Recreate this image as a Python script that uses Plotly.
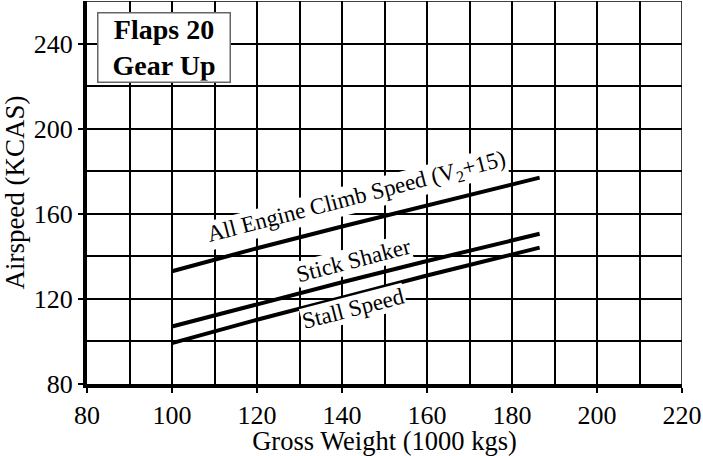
import plotly.graph_objects as go

# gross weight (1000 kgs)
weight = [100, 120, 140, 160, 186.5]

# airspeeds (KCAS)
climb_speed = [133, 143.8, 154, 164, 177]
stick_shaker = [107, 117.6, 127.8, 137.8, 150.6]
stall_speed = [99.2, 110.2, 120.6, 131, 144.1]

curve_labels = ["All Engine Climb Speed (V<sub>2</sub>+15)", "Stick Shaker", "Stall Speed"]
label_x = [143.3, 142.7, 142.8]
label_y = [167.5, 137.9, 115.3]

FONT = "Liberation Serif, Times New Roman, serif"

fig = go.Figure()
for ys in [climb_speed, stick_shaker, stall_speed]:
    fig.add_trace(go.Scatter(x=weight, y=ys, mode="lines",
                             line=dict(color="black", width=4),
                             showlegend=False, hoverinfo="skip"))

for txt, lx, ly in zip(curve_labels, label_x, label_y):
    fig.add_annotation(x=lx, y=ly, text=txt, showarrow=False, textangle=-14.5,
                       font=dict(family=FONT, size=23, color="black"),
                       bgcolor="white", borderpad=0)

# top / right edge grid lines
fig.add_shape(type="line", x0=80, x1=220, y0=260, y1=260, line=dict(color="black", width=1.5))
fig.add_shape(type="line", x0=220, x1=220, y0=80, y1=260, line=dict(color="black", width=1.5))

# title box
fig.add_annotation(xref="paper", yref="paper", x=0.0168, y=0.971, xanchor="left", yanchor="top",
                   text="<b>Flaps 20<br>Gear Up</b>", showarrow=False, align="center",
                   width=129, height=66,
                   font=dict(family=FONT, size=28, color="black"),
                   bgcolor="white", bordercolor="#666666", borderwidth=1.5, borderpad=1)

fig.update_xaxes(range=[80, 220], dtick=20, tick0=80, automargin=False,
                 showgrid=True, gridcolor="black", gridwidth=1.5,
                 minor=dict(dtick=10, showgrid=True, gridcolor="black", gridwidth=1.5, ticks=""),
                 showline=True, linecolor="black", linewidth=4,
                 ticks="outside", ticklen=5, tickwidth=1.5, tickcolor="black",
                 zeroline=False,
                 tickfont=dict(family=FONT, size=26, color="black"),
                 title=dict(text="Gross Weight (1000 kgs)", standoff=0,
                            font=dict(family=FONT, size=26.5, color="black")))
fig.update_yaxes(range=[80, 260], dtick=40, tick0=80, automargin=False,
                 showgrid=True, gridcolor="black", gridwidth=1.5,
                 minor=dict(dtick=20, showgrid=True, gridcolor="black", gridwidth=1.5, ticks=""),
                 showline=True, linecolor="black", linewidth=4,
                 ticks="outside", ticklen=5, tickwidth=1.5, tickcolor="black",
                 zeroline=False,
                 tickfont=dict(family=FONT, size=26, color="black"),
                 title=dict(text="Airspeed (KCAS)", standoff=4,
                            font=dict(family=FONT, size=27, color="black")))

fig.update_layout(width=703, height=456, margin=dict(l=87, r=21, t=1, b=72),
                  plot_bgcolor="white", paper_bgcolor="white")

# drop the default page margin so the figure sits at the window's corner
fig.write_html("out.html", config={"displayModeBar": False},
               post_script="document.body.style.margin='0';")
